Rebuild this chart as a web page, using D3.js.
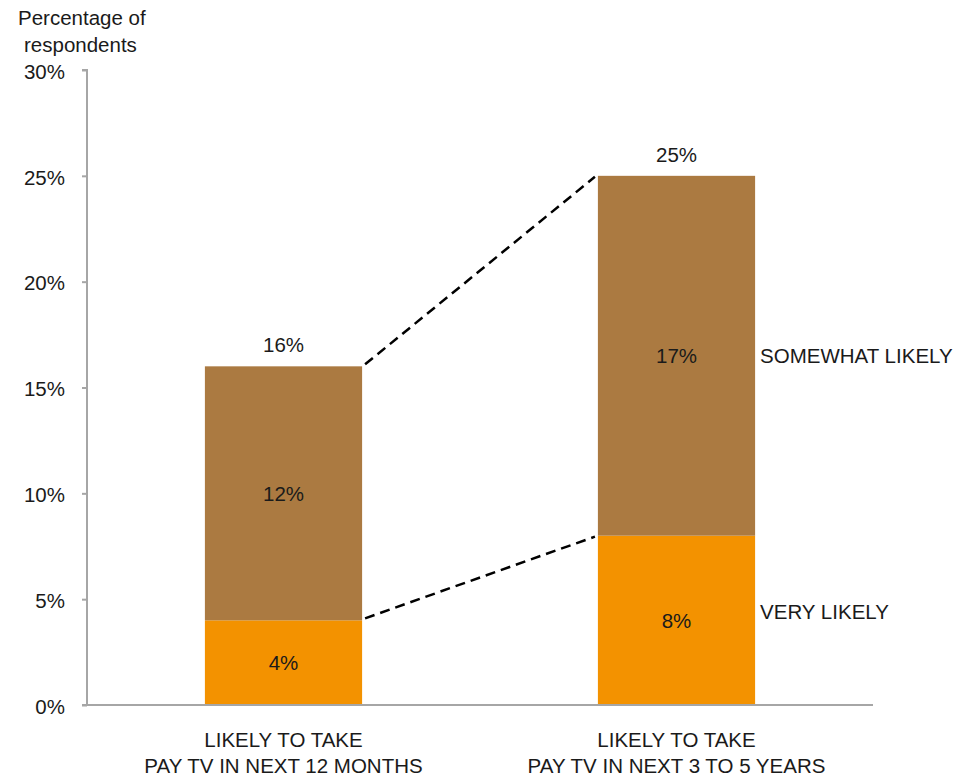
<!DOCTYPE html>
<html>
<head>
<meta charset="utf-8">
<script src="https://cdn.jsdelivr.net/npm/d3@7"></script>
<style>
  html, body { margin: 0; padding: 0; background: #fff; }
  text { font-family: "Liberation Sans", Arial, sans-serif; fill: #1a1a1a; }
</style>
</head>
<body>
<svg id="chart" width="975" height="778"></svg>
<script>
// Survey shares (percent of respondents)
const categories = [
  ["LIKELY TO TAKE", "PAY TV IN NEXT 12 MONTHS"],
  ["LIKELY TO TAKE", "PAY TV IN NEXT 3 TO 5 YEARS"]
];
const seriesNames = ["VERY LIKELY", "SOMEWHAT LIKELY"];
const veryLikely = [4, 8];
const somewhatLikely = [12, 17];
const totals = [16, 25];
const yTicks = [0, 5, 10, 15, 20, 25, 30];
const seriesColors = ["#F39200", "#AB7A41"];

const FS = 20.5;
const svg = d3.select("#chart");
const margin = { left: 87, right: 102, top: 70, bottom: 73 };
const W = 975, H = 778;

const x = d3.scaleBand()
  .domain(d3.range(categories.length))
  .range([margin.left, W - margin.right])
  .paddingInner(0.6)
  .paddingOuter(0.3);

const y = d3.scaleLinear()
  .domain([0, 30])
  .range([H - margin.bottom, margin.top]);

// Stack the two series
const rows = categories.map((c, i) => ({ i, very: veryLikely[i], somewhat: somewhatLikely[i] }));
const stack = d3.stack().keys(["very", "somewhat"])(rows);

stack.forEach((layer, k) => {
  svg.append("g")
    .selectAll("rect")
    .data(layer)
    .join("rect")
    .attr("x", d => x(d.data.i))
    .attr("y", d => y(d[1]))
    .attr("width", x.bandwidth())
    .attr("height", d => y(d[0]) - y(d[1]))
    .attr("fill", seriesColors[k]);
});

// Segment value labels
stack.forEach((layer, k) => {
  svg.append("g")
    .selectAll("text")
    .data(layer)
    .join("text")
    .attr("x", d => x(d.data.i) + x.bandwidth() / 2)
    .attr("y", d => y((d[0] + d[1]) / 2))
    .attr("dy", "0.35em")
    .attr("text-anchor", "middle")
    .attr("font-size", FS)
    .text(d => (d[1] - d[0]) + "%");
});

// Total labels above bars
svg.append("g")
  .selectAll("text")
  .data(totals)
  .join("text")
  .attr("x", (d, i) => x(i) + x.bandwidth() / 2)
  .attr("y", d => y(d) - 14)
  .attr("text-anchor", "middle")
  .attr("font-size", FS)
  .text(d => d + "%");

// Dashed connectors between bars
const gap = 3;
const connectors = [
  [totals[0], totals[1]],
  [veryLikely[0], veryLikely[1]]
];
svg.append("g")
  .selectAll("line")
  .data(connectors)
  .join("line")
  .attr("x1", x(0) + x.bandwidth() + gap)
  .attr("y1", d => y(d[0]) - 2)
  .attr("x2", x(1) - gap)
  .attr("y2", d => y(d[1]) + 1)
  .attr("stroke", "#000")
  .attr("stroke-width", 2.5)
  .attr("stroke-dasharray", "10,6");

// Series labels to the right of the second bar
const last = categories.length - 1;
svg.append("g")
  .selectAll("text")
  .data([
    { name: seriesNames[1], v: veryLikely[last] + somewhatLikely[last] / 2 },
    { name: seriesNames[0], v: veryLikely[last] / 2 + 0.4 }
  ])
  .join("text")
  .attr("x", x(last) + x.bandwidth() + 5)
  .attr("y", d => y(d.v))
  .attr("dy", "0.35em")
  .attr("font-size", FS)
  .text(d => d.name);

// Y axis
const yAxis = d3.axisLeft(y)
  .tickValues(yTicks)
  .tickFormat(d => d + "%")
  .tickSize(5)
  .tickPadding(17);
const gy = svg.append("g")
  .attr("transform", `translate(${margin.left},0)`)
  .call(yAxis);
gy.select(".domain").attr("stroke", "#a6a6a6").attr("stroke-width", 2).attr("d", `M-5,${y(30)}H0V${y(0)}`);
gy.selectAll(".tick line").attr("stroke", "#a6a6a6").attr("stroke-width", 2);
gy.selectAll(".tick text")
  .attr("font-size", FS)
  .attr("dy", "0.4em")
  .attr("font-family", "'Liberation Sans', Arial, sans-serif")
  .attr("fill", "#1a1a1a");

// X axis baseline
svg.append("line")
  .attr("x1", margin.left - 5)
  .attr("x2", W - margin.right)
  .attr("y1", y(0))
  .attr("y2", y(0))
  .attr("stroke", "#a6a6a6")
  .attr("stroke-width", 2);

// Category labels
const cat = svg.append("g")
  .selectAll("text")
  .data(categories)
  .join("text")
  .attr("text-anchor", "middle")
  .attr("font-size", FS);
cat.each(function (lines, i) {
  d3.select(this).selectAll("tspan")
    .data(lines)
    .join("tspan")
    .attr("x", x(i) + x.bandwidth() / 2)
    .attr("y", (d, j) => 747 + j * 26)
    .text(d => d);
});

// Axis title
svg.append("text")
  .attr("font-size", FS)
  .selectAll("tspan")
  .data(["Percentage of", "respondents"])
  .join("tspan")
  .attr("x", (d, j) => j === 0 ? 18 : 24)
  .attr("y", (d, j) => 25 + j * 27)
  .text(d => d);
</script>
</body>
</html>
